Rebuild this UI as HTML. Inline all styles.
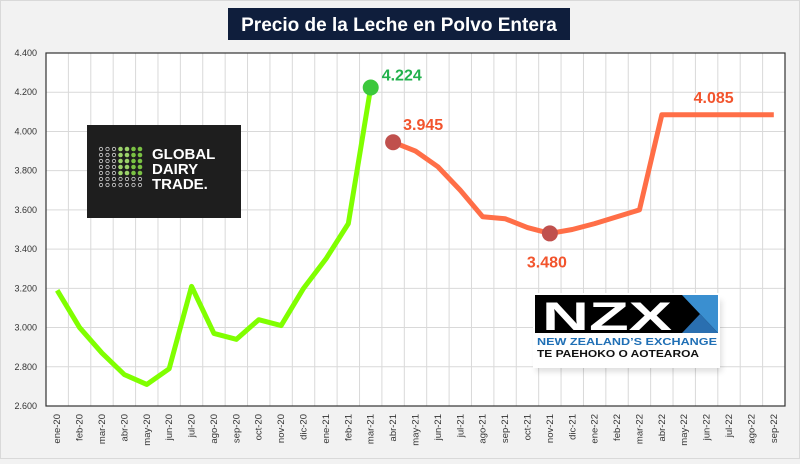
<!DOCTYPE html>
<html><head><meta charset="utf-8"><style>
body{margin:0;background:#f2f2f2;width:800px;height:459px;overflow:hidden;font-family:"Liberation Sans",sans-serif}
</style></head><body>
<svg id="c" width="800" height="459" xmlns="http://www.w3.org/2000/svg">
<rect x="0.5" y="0.5" width="799" height="458" fill="#f2f2f2" stroke="#d9d9d9"/>
<rect x="228" y="8" width="342" height="32" fill="#0f1e3c"/>
<text x="399" y="31" text-anchor="middle" fill="#fff" font-size="19" font-weight="bold" font-family="Liberation Sans Narrow, Liberation Sans, sans-serif">Precio de la Leche en Polvo Entera</text>
<rect x="46" y="53" width="739" height="353" fill="#fff"/>
<g id="grid"></g>
<g id="yt"></g>
<g id="xt"></g>
<g id="logos">
<g>
<rect x="87" y="125" width="154" height="93" fill="#1e1e1e"/>
<g id="dots"></g>
<text x="152" y="159" fill="#fff" font-size="15" font-weight="bold">GLOBAL</text>
<text x="152" y="174" fill="#fff" font-size="15" font-weight="bold">DAIRY</text>
<text x="152" y="189" fill="#fff" font-size="15" font-weight="bold">TRADE.</text>
</g>
<g>
<rect x="536" y="300" width="186" height="72" fill="#000" opacity="0.12" filter="blur(3px)"/>
<rect x="533" y="293" width="187" height="75" fill="#fff"/>
<rect x="535" y="295" width="183" height="38" fill="#000"/>
<text x="542" y="330" fill="#fff" font-size="40" font-weight="bold" font-family="Liberation Sans, sans-serif" textLength="130" lengthAdjust="spacingAndGlyphs">NZX</text>
<polygon points="682,295 718,295 718,333" fill="#3a8fd0"/>
<polygon points="682,333 700,314 718,333" fill="#2a6fb0"/>
<text x="537" y="345" fill="#1f6fb5" font-size="10.5" font-weight="bold" textLength="180" lengthAdjust="spacingAndGlyphs">NEW ZEALAND’S EXCHANGE</text>
<text x="537" y="357" fill="#111" font-size="10.5" font-weight="bold" textLength="162" lengthAdjust="spacingAndGlyphs">TE PAEHOKO O AOTEAROA</text>
</g>
</g>
<g id="series"></g>
<rect x="46" y="53" width="739" height="353" fill="none" stroke="#333" stroke-width="1.2"/>
</svg>
<script>
const categories=["ene-20","feb-20","mar-20","abr-20","may-20","jun-20","jul-20","ago-20","sep-20","oct-20","nov-20","dic-20","ene-21","feb-21","mar-21","abr-21","may-21","jun-21","jul-21","ago-21","sep-21","oct-21","nov-21","dic-21","ene-22","feb-22","mar-22","abr-22","may-22","jun-22","jul-22","ago-22","sep-22"];
const gdtValues=[3190,3000,2870,2760,2710,2790,3210,2970,2940,3040,3010,3200,3350,3530,4224];
const nzxValues=[3945,3900,3820,3700,3565,3555,3510,3480,3500,3530,3565,3600,4085,4085,4085,4085,4085,4085];
const nzxStart=15;
const yTicks=[2600,2800,3000,3200,3400,3600,3800,4000,4200,4400];
const yTickLabels=["2.600","2.800","3.000","3.200","3.400","3.600","3.800","4.000","4.200","4.400"];
const NS="http://www.w3.org/2000/svg";
const L=46,R=785,T=53,B=406,step=(R-L)/categories.length;
const x=i=>L+step*(i+0.5);
const y=v=>B-(v-2600)/(4400-2600)*(B-T);
function mk(tag,a,p){const e=document.createElementNS(NS,tag);for(const k in a)e.setAttribute(k,a[k]);p.appendChild(e);return e;}
const grid=document.getElementById('grid'),yt=document.getElementById('yt'),xt=document.getElementById('xt'),ser=document.getElementById('series');
for(let i=1;i<categories.length;i++){const l=mk('line',{x1:L+step*i,x2:L+step*i,y1:T,y2:B,stroke:'#d9d9d9'},grid);

}
for(let i=0;i<yTicks.length;i++){
if(i>0&&i<yTicks.length-1){const g=mk('line',{x1:L,x2:R,y1:y(yTicks[i]),y2:y(yTicks[i]),stroke:'#d9d9d9'},grid);

}
const t=mk('text',{x:37,y:y(yTicks[i])+3,'text-anchor':'end','font-size':'9',fill:'#333'},yt);t.textContent=yTickLabels[i];

}
categories.forEach((c,i)=>{const t=mk('text',{x:0,y:0,'text-anchor':'end','font-size':'9.5',fill:'#333',transform:`translate(${x(i)+3},${B+8}) rotate(-90)`},xt);t.textContent=c;

});
const gp=mk('polyline',{points:gdtValues.map((v,i)=>x(i)+','+y(v)).join(' '),fill:'none',stroke:'#80ff00','stroke-width':5,'stroke-linejoin':'round'},ser);


const np=mk('polyline',{points:nzxValues.map((v,i)=>x(i+nzxStart)+','+y(v)).join(' '),fill:'none',stroke:'#ff6e47','stroke-width':5,'stroke-linejoin':'round'},ser);


const gi=gdtValues.length-1;
const m1=mk('circle',{cx:x(gi),cy:y(gdtValues[gi]),r:8,fill:'#3cc83c'},ser);


const m2=mk('circle',{cx:x(nzxStart),cy:y(nzxValues[0]),r:8,fill:'#c0504d'},ser);


const m3=mk('circle',{cx:x(nzxStart+7),cy:y(nzxValues[7]),r:8,fill:'#c0504d'},ser);


function lab(tx,ty,s,col,n){const t=mk('text',{x:tx,y:ty,'font-size':'16','font-weight':'bold',fill:col},ser);t.textContent=s;

}
lab(x(gi)+11,y(gdtValues[gi])-7,'4.224','#22b14c','label-4224');
lab(x(nzxStart)+10,y(nzxValues[0])-12,'3.945','#f2542d','label-3945');
lab(x(nzxStart+7)-23,y(nzxValues[7])+34,'3.480','#f2542d','label-3480');
lab(x(29)-13,y(4085)-12,'4.085','#f2542d','label-4085');
const dots=document.getElementById('dots');
for(let r=0;r<7;r++)for(let c=0;c<7;c++){const g=c>=3&&r<5;const d=mk('circle',{cx:101+c*6.5,cy:149+r*6,r:g?2.3:1.7,fill:g?(c>4?'#7ac143':'#9bd26a'):'none',stroke:g?'none':'#ccc','stroke-width':0.8},dots);

}
</script>
</body></html>
